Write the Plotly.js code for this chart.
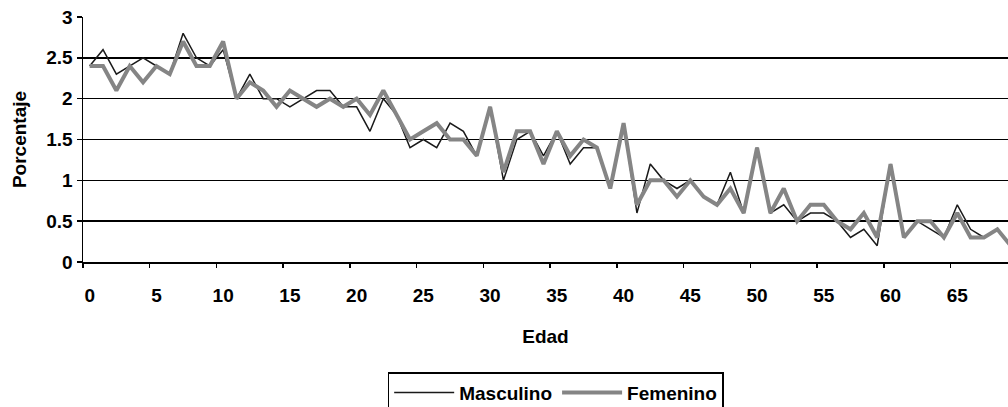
<!DOCTYPE html>
<html>
<head>
<meta charset="utf-8">
<script src="https://cdn.plot.ly/plotly-3.0.1.min.js"></script>
<style>html,body{margin:0;padding:0;background:#fff;}#chart{width:1008px;height:407px;}</style>
</head>
<body>
<div id="chart"></div>
<script>
const edad = [];
for (let i = 0; i <= 69; i++) edad.push(i);
const masculino = [2.4,2.6,2.3,2.4,2.5,2.4,2.3,2.8,2.5,2.4,2.6,2.0,2.3,2.0,2.0,1.9,2.0,2.1,2.1,1.9,
  1.9,1.6,2.0,1.8,1.4,1.5,1.4,1.7,1.6,1.3,1.9,1.0,1.5,1.6,1.3,1.6,1.2,1.4,1.4,0.9,
  1.7,0.6,1.2,1.0,0.9,1.0,0.8,0.7,1.1,0.6,1.4,0.6,0.7,0.5,0.6,0.6,0.5,0.3,0.4,0.2,
  1.2,0.3,0.5,0.4,0.3,0.7,0.4,0.3,0.4,0.2];
const femenino = [2.4,2.4,2.1,2.4,2.2,2.4,2.3,2.7,2.4,2.4,2.7,2.0,2.2,2.1,1.9,2.1,2.0,1.9,2.0,1.9,
  2.0,1.8,2.1,1.8,1.5,1.6,1.7,1.5,1.5,1.3,1.9,1.1,1.6,1.6,1.2,1.6,1.3,1.5,1.4,0.9,
  1.7,0.7,1.0,1.0,0.8,1.0,0.8,0.7,0.9,0.6,1.4,0.6,0.9,0.5,0.7,0.7,0.5,0.4,0.6,0.3,
  1.2,0.3,0.5,0.5,0.3,0.6,0.3,0.3,0.4,0.2];
const xTickVals = [0,5,10,15,20,25,30,35,40,45,50,55,60,65];
const xTickText = ['0','5','10','15','20','25','30','35','40','45','50','55','60','65'];
const xBoundaries = [-0.5,4.5,9.5,14.5,19.5,24.5,29.5,34.5,39.5,44.5,49.5,54.5,59.5,64.5];
const yTickVals = [0,0.5,1,1.5,2,2.5,3];
const yTickText = ['0','0.5','1','1.5','2','2.5','3'];

const FONT = 'Liberation Sans, Arial, sans-serif';
const FS = 19;
const xr = [-0.5, 68.8];

const traces = [
  {x: edad, y: masculino, name: 'Masculino', type: 'scatter', mode: 'lines',
   line: {color: '#1a1a1a', width: 1.5}, xaxis: 'x', yaxis: 'y'},
  {x: edad, y: femenino, name: 'Femenino', type: 'scatter', mode: 'lines',
   line: {color: '#858585', width: 4}, xaxis: 'x2', yaxis: 'y'}
];

const layout = {
  width: 1008, height: 407,
  margin: {l: 83, r: 0, t: 17, b: 145, autoexpand: false},
  paper_bgcolor: '#fff', plot_bgcolor: '#fff',
  font: {family: FONT, size: FS, color: '#000', weight: 'bold'},
  showlegend: true,
  legend: {orientation: 'h', x: 0.511, xanchor: 'center', y: -0.45, yanchor: 'top',
    bordercolor: '#000', borderwidth: 1.5, bgcolor: '#fff',
    font: {family: FONT, size: FS, weight: 'bold'}, tracegroupgap: 0, itemwidth: 60},
  xaxis: {range: xr, tickmode: 'array', tickvals: xTickVals, ticktext: xTickText,
    ticks: '', showgrid: false, zeroline: false, showline: true, linecolor: '#000', linewidth: 1.5,
    ticklabelstandoff: 16, tickfont: {family: FONT, size: FS, weight: 'bold'},
    title: {text: 'Edad', font: {family: FONT, size: FS, weight: 'bold'}, standoff: 24}},
  xaxis2: {range: xr, overlaying: 'x', anchor: 'y', side: 'bottom', tickmode: 'array',
    tickvals: xBoundaries, ticks: 'outside', ticklen: 5, tickwidth: 1.5, tickcolor: '#000',
    showticklabels: false, showgrid: false, zeroline: false, showline: false},
  yaxis: {range: [0, 3], tickmode: 'array', tickvals: yTickVals, ticktext: yTickText,
    ticks: 'outside', ticklen: 5, tickwidth: 1.5, tickcolor: '#000',
    showgrid: true, gridcolor: '#000', gridwidth: 1.5, zeroline: false,
    showline: true, linecolor: '#000', linewidth: 1.5,
    tickfont: {family: FONT, size: FS, weight: 'bold'},
    title: {text: 'Porcentaje', font: {family: FONT, size: FS, weight: 'bold'}, standoff: 14}}
};

Plotly.newPlot('chart', traces, layout, {displayModeBar: false, staticPlot: true});
</script>
</body>
</html>
